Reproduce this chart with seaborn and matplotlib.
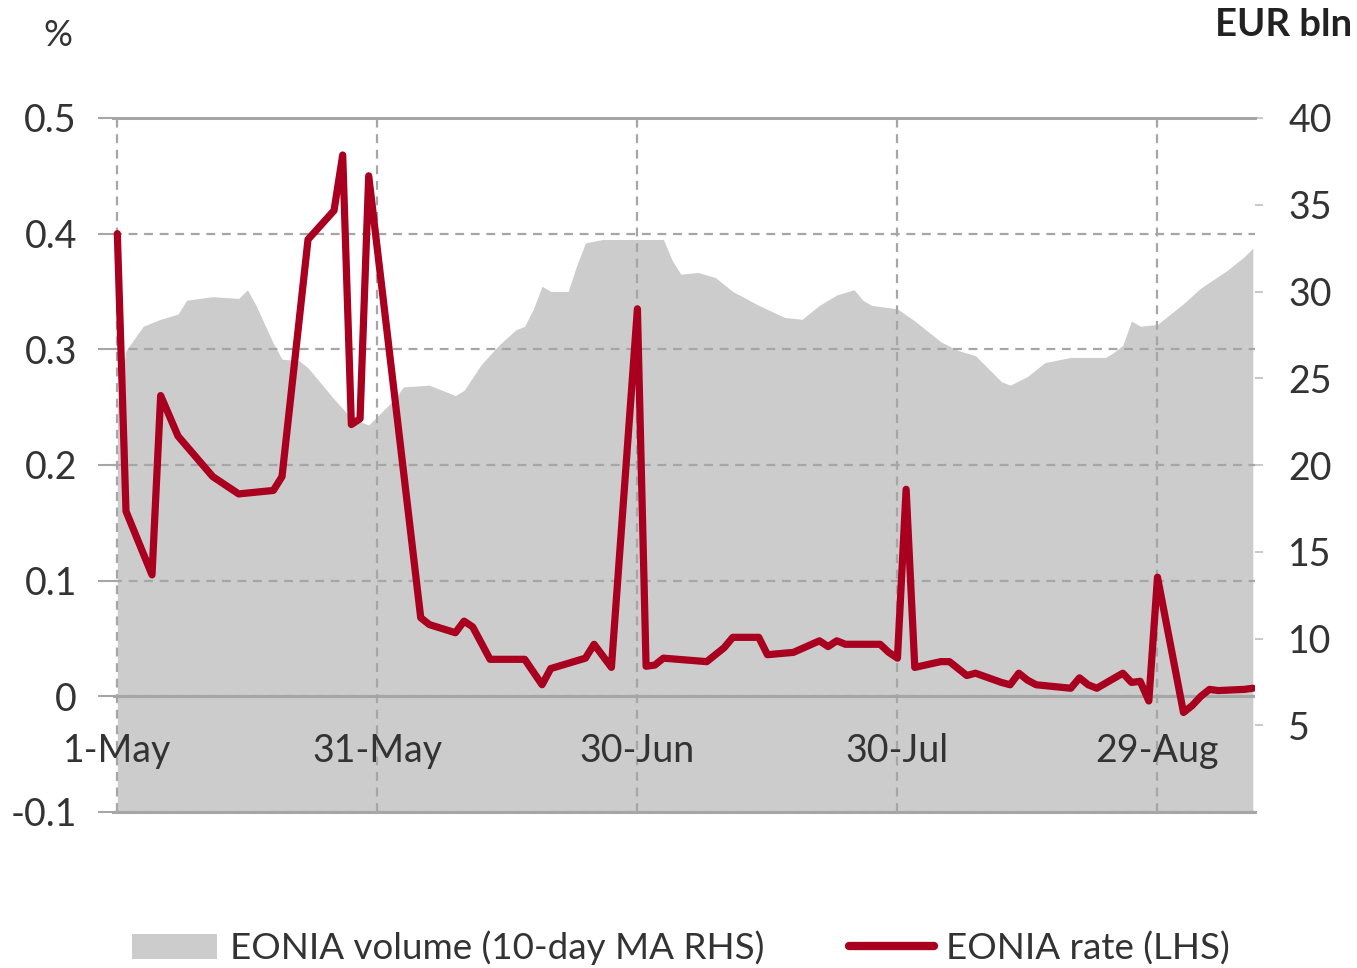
import matplotlib
matplotlib.use("Agg")
import matplotlib.pyplot as plt
from matplotlib.patches import Patch
from matplotlib.lines import Line2D
import pandas as pd
import seaborn as sns

# EONIA rate (LHS, %)
rate_dates = ["2014-05-01", "2014-05-02", "2014-05-05", "2014-05-06", "2014-05-08", "2014-05-12",
              "2014-05-15", "2014-05-19", "2014-05-20", "2014-05-23", "2014-05-26", "2014-05-27",
              "2014-05-28", "2014-05-29", "2014-05-30", "2014-06-05", "2014-06-06", "2014-06-09",
              "2014-06-10", "2014-06-11", "2014-06-13", "2014-06-17", "2014-06-19", "2014-06-20",
              "2014-06-24", "2014-06-25", "2014-06-27", "2014-06-30", "2014-07-01", "2014-07-02",
              "2014-07-03", "2014-07-08", "2014-07-10", "2014-07-11", "2014-07-14", "2014-07-15",
              "2014-07-18", "2014-07-21", "2014-07-22", "2014-07-23", "2014-07-24", "2014-07-28",
              "2014-07-29", "2014-07-30", "2014-07-31", "2014-08-01", "2014-08-04", "2014-08-05",
              "2014-08-07", "2014-08-08", "2014-08-11", "2014-08-12", "2014-08-13", "2014-08-14",
              "2014-08-15", "2014-08-19", "2014-08-20", "2014-08-21", "2014-08-22", "2014-08-25",
              "2014-08-26", "2014-08-27", "2014-08-28", "2014-08-29", "2014-09-01", "2014-09-02",
              "2014-09-03", "2014-09-04", "2014-09-05", "2014-09-08", "2014-09-09"]
rate_values = [0.40, 0.16, 0.105, 0.26, 0.225, 0.19,
               0.175, 0.178, 0.19, 0.395, 0.42, 0.468,
               0.235, 0.24, 0.45, 0.068, 0.062, 0.055,
               0.065, 0.06, 0.032, 0.032, 0.01, 0.024,
               0.033, 0.045, 0.025, 0.335, 0.026, 0.027,
               0.033, 0.03, 0.042, 0.051, 0.051, 0.036,
               0.038, 0.048, 0.043, 0.048, 0.045, 0.045,
               0.038, 0.033, 0.179, 0.025, 0.03, 0.03,
               0.018, 0.02, 0.012, 0.01, 0.02, 0.014,
               0.01, 0.007, 0.016, 0.01, 0.007, 0.02,
               0.012, 0.013, -0.004, 0.103, -0.014, -0.008,
               0.0, 0.006, 0.005, 0.006, 0.007]

# EONIA volume, 10-day moving average (RHS, EUR bln)
vol_dates = ["2014-05-01", "2014-05-02", "2014-05-04", "2014-05-06", "2014-05-08", "2014-05-09",
             "2014-05-12", "2014-05-15", "2014-05-16", "2014-05-17", "2014-05-19", "2014-05-20",
             "2014-05-22", "2014-05-23", "2014-05-26", "2014-05-28", "2014-05-30", "2014-06-02",
             "2014-06-03", "2014-06-06", "2014-06-09", "2014-06-10", "2014-06-12", "2014-06-14",
             "2014-06-16", "2014-06-17", "2014-06-18", "2014-06-19", "2014-06-20", "2014-06-22",
             "2014-06-23", "2014-06-24", "2014-06-26", "2014-06-30", "2014-07-03", "2014-07-04",
             "2014-07-05", "2014-07-07", "2014-07-09", "2014-07-11", "2014-07-14", "2014-07-17",
             "2014-07-19", "2014-07-21", "2014-07-23", "2014-07-25", "2014-07-26", "2014-07-27",
             "2014-07-30", "2014-08-01", "2014-08-04", "2014-08-06", "2014-08-08", "2014-08-11",
             "2014-08-12", "2014-08-14", "2014-08-16", "2014-08-19", "2014-08-23", "2014-08-24",
             "2014-08-25", "2014-08-26", "2014-08-27", "2014-08-29", "2014-09-01", "2014-09-03",
             "2014-09-06", "2014-09-08", "2014-09-09"]
vol_values = [23.5, 26.6, 28.0, 28.4, 28.7, 29.5,
              29.7, 29.6, 30.1, 29.2, 27.0, 26.1,
              26.0, 25.6, 23.8, 22.7, 22.3, 23.8,
              24.5, 24.6, 24.0, 24.3, 25.8, 26.9,
              27.8, 28.0, 29.0, 30.3, 30.0, 30.0,
              31.5, 32.8, 33.0, 33.0, 33.0, 31.8,
              31.0, 31.1, 30.8, 30.0, 29.2, 28.5,
              28.4, 29.2, 29.8, 30.1, 29.5, 29.2,
              29.0, 28.3, 27.1, 26.6, 26.3, 24.8,
              24.6, 25.1, 25.9, 26.2, 26.2, 26.5,
              26.9, 28.3, 28.0, 28.1, 29.3, 30.2,
              31.2, 32.0, 32.5]

tick_dates = ["2014-05-01", "2014-05-31", "2014-06-30", "2014-07-30", "2014-08-29"]
tick_labels = ["1-May", "31-May", "30-Jun", "30-Jul", "29-Aug"]
left_ticks = [-0.1, 0, 0.1, 0.2, 0.3, 0.4, 0.5]
left_labels = ["-0.1", "0", "0.1", "0.2", "0.3", "0.4", "0.5"]
right_ticks = [5, 10, 15, 20, 25, 30, 35, 40]

rate_df = pd.DataFrame({"date": pd.to_datetime(rate_dates), "rate": rate_values})
vol_df = pd.DataFrame({"date": pd.to_datetime(vol_dates), "volume": vol_values})

sns.set_theme(style="white")
plt.rcParams["font.family"] = ["Lato", "DejaVu Sans"]

RED = "#a8001e"
AREA = "#cccccc"
GRID = "#a6a6a6"
TXT = "#333333"

fig, ax = plt.subplots(figsize=(13.57, 9.68), dpi=100)
fig.subplots_adjust(left=113 / 1357, right=1255 / 1357, top=1 - 118 / 968, bottom=1 - 812 / 968)
ax2 = ax.twinx()

# volume area on the right axis, behind everything
ax2.fill_between(vol_df["date"], vol_df["volume"], 0, color=AREA, lw=0)
ax2.set_ylim(0, 40)
ax2.set_yticks(right_ticks)
ax2.set_yticklabels([str(t) for t in right_ticks])
ax2.tick_params(axis="y", length=6, width=1.2, color="#bfbfbf", pad=18,
                labelsize=27, labelcolor=TXT)
ax2.set_ylabel("")
for s in ax2.spines.values():
    s.set_visible(False)

# rate line on the left axis, drawn on top
ax.set_zorder(ax2.get_zorder() + 1)
ax.patch.set_visible(False)
sns.lineplot(data=rate_df, x="date", y="rate", ax=ax, color=RED, lw=5.2, zorder=5)
ax.set_ylim(-0.1, 0.5)
ax.set_xlim(pd.Timestamp("2014-04-30 12:00"), pd.Timestamp("2014-09-09 06:00"))
ax.set_yticks(left_ticks)
ax.set_yticklabels(left_labels)
ax.set_xticks(pd.to_datetime(tick_dates))
ax.set_xticklabels(tick_labels)
ax.set_xlabel("")
ax.set_ylabel("")
ax.tick_params(axis="y", length=11, width=1.5, color=GRID, pad=15, labelsize=27, labelcolor=TXT)
ax.tick_params(axis="x", length=0, pad=-57, labelsize=27, labelcolor=TXT)

ax.grid(True, axis="both", color=GRID, ls=(0, (4, 3)), lw=1.6)
ax.axhline(0, color=GRID, lw=2.2, zorder=3)
for side in ["left", "right"]:
    ax.spines[side].set_visible(False)
for side in ["top", "bottom"]:
    ax.spines[side].set_color(GRID)
    ax.spines[side].set_linewidth(2.2)

fig.text(58 / 1357, 1 - 35 / 968, "%", ha="center", va="center", fontsize=26, color=TXT)
fig.text(1352 / 1357, 1 - 25 / 968, "EUR bln", ha="right", va="center", fontsize=27.5,
         fontweight="bold", color="#222222")

handles = [Patch(facecolor=AREA, edgecolor="none"), Line2D([0], [0], color=RED, lw=6)]
labels = ["EONIA volume (10-day MA RHS)", "EONIA rate (LHS)"]
fig.legend(handles, labels, loc="center", bbox_to_anchor=(0.502, 20 / 968), ncol=2,
           frameon=False, fontsize=26.5, handlelength=2.3, columnspacing=2.3,
           handletextpad=0.35, labelcolor=TXT)

fig.savefig("out.png", dpi=100)
